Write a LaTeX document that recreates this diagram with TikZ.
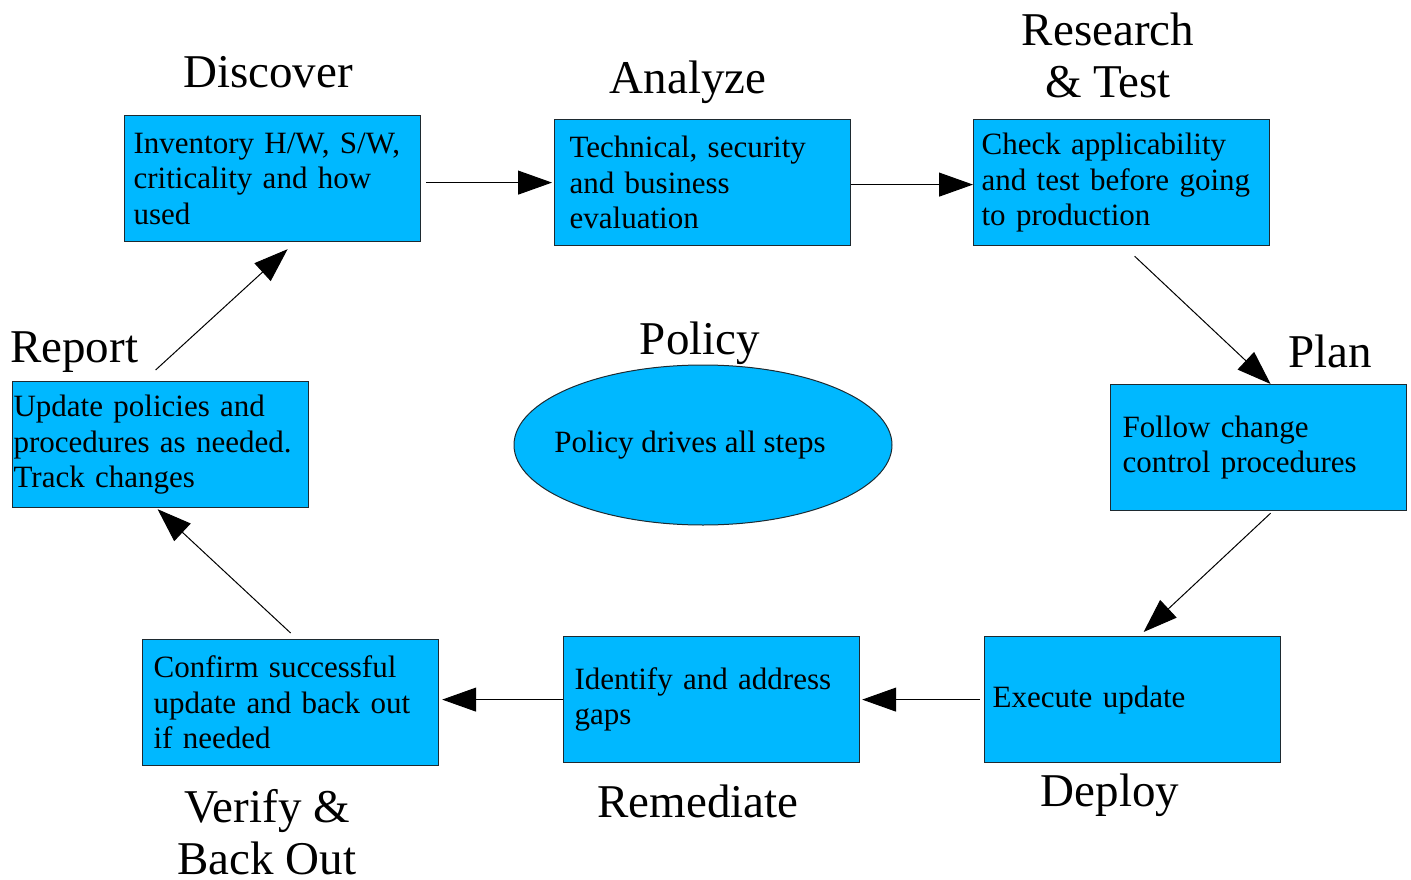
\documentclass[tikz,border=0pt]{standalone}
\usepackage{fontspec}
\setmainfont{Liberation Serif}
\usepackage{tikz}
\usetikzlibrary{arrows.meta,positioning,shapes.geometric}
\definecolor{pmblue}{HTML}{00B8FF}
\definecolor{pmedge}{HTML}{1E2A30}
\tikzset{
  flow/.style={-{Triangle[length=34pt,width=24pt]}, line width=1pt, draw=black},
  stagebox/.style={draw=pmedge, line width=1.2pt, fill=pmblue, anchor=north west,
    align=left, minimum width=296pt, minimum height=126pt, inner ysep=0pt,
    font=\fontsize{31}{35.5}\selectfont},
  policy/.style={ellipse, draw=pmedge, line width=1pt, fill=pmblue,
    minimum width=378pt, minimum height=160pt, inner sep=0pt,
    font=\fontsize{31}{35.5}\selectfont},
  phase/.style={align=center, inner sep=0pt, font=\fontsize{47}{52}\selectfont}
}
\begin{document}
\begin{tikzpicture}[x=1pt, y=-1pt]
    \useasboundingbox (0,0) rectangle (1411,880);
    \node[stagebox, inner xsep=9pt, text width=278pt] (discover) at (124,115)
        {Inventory H/W, S/W,\\criticality and how\\used};
    \node[stagebox, inner xsep=15pt, text width=266pt] (analyze) at (554,119)
        {Technical, security\\and business\\evaluation};
    \node[stagebox, inner xsep=8pt, text width=280pt] (research) at (973,119)
        {Check applicability\\and test before going\\to production};
    \node[stagebox, inner xsep=12pt, text width=272pt] (plan) at (1110,384)
        {Follow change\\control procedures};
    \node[stagebox, inner xsep=8pt, text width=280pt] (deploy) at (984,636)
        {Execute update};
    \node[stagebox, inner xsep=11pt, text width=274pt] (remediate) at (563,636)
        {Identify and address\\gaps};
    \node[stagebox, inner xsep=11pt, text width=274pt] (verify) at (142,639)
        {Confirm successful\\update and back out\\if needed};
    \node[stagebox, inner xsep=1pt, text width=294pt] (report) at (12,381)
        {Update policies and\\procedures as needed.\\Track changes};
    \node[policy] (drives) at (703,445)
        {\makebox[0pt]{\hspace*{-26pt}Policy drives all steps}};

    \node[phase, anchor=base] (tdiscover) at (268,88) {Discover};
    \node[phase, anchor=base] (tanalyze) at (688,94) {Analyze};
    \node[phase, anchor=base] (tresearch) at (1108,98) {Research\\\& Test};
    \node[phase, anchor=base] (tplan) at (1330,367) {Plan};
    \node[phase, anchor=base] (tpolicy) at (700,354) {Policy};
    \node[phase, anchor=base west] (treport) at (10,362) {Report};
    \node[phase, anchor=base] (tdeploy) at (1110,806) {Deploy};
    \node[phase, anchor=base] (tremediate) at (698,817) {Remediate};
    \node[phase, anchor=base] (tverify) at (267,874) {Verify \&\\Back Out};

    \draw[flow, shorten <=5pt, shorten >=2pt] (discover.east |- analyze.west) -- (analyze.west);
    \draw[flow] ([yshift=-2pt]analyze.east) -- ([yshift=-2pt]research.west);
    \draw[flow] ([xshift=13pt,yshift=-10pt]research.south) -- ([xshift=12pt]plan.north);
    \draw[flow] ([xshift=12pt,yshift=-2pt]plan.south) -- ([xshift=11pt,yshift=4pt]deploy.north);
    \draw[flow] ([xshift=-4pt]deploy.west) -- ([xshift=2pt]remediate.east);
    \draw[flow, shorten >=3pt] (remediate.west) -- (remediate.west -| verify.east);
    \draw[flow] ([yshift=6pt]verify.north) -- ([xshift=-3pt,yshift=-1pt]report.south);
    \draw[flow] ([xshift=-5pt,yshift=11pt]report.north) -- ([xshift=15pt,yshift=-7pt]discover.south);
\end{tikzpicture}
\end{document}
